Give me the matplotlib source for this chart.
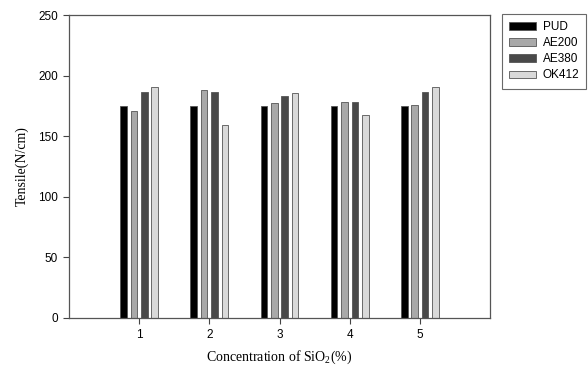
import matplotlib
matplotlib.use("Agg")
import matplotlib.pyplot as plt
import numpy as np

# Data
concentrations = [1, 2, 3, 4, 5]
series_names = ["PUD", "AE200", "AE380", "OK412"]
pud = [175, 175, 175, 175, 175]
ae200 = [170.5, 188, 177.5, 178, 175.5]
ae380 = [186.5, 186.5, 183, 178.5, 186.5]
ok412 = [190.5, 159.5, 186, 167.5, 191]

colors = ["#000000", "#a9a9a9", "#494949", "#d9d9d9"]

plt.rcParams["mathtext.fontset"] = "custom"
plt.rcParams["mathtext.rm"] = "Liberation Serif"
plt.rcParams["mathtext.it"] = "Liberation Serif:italic"

fig = plt.figure(figsize=(5.88, 3.72), dpi=100)
ax = fig.add_axes([69 / 588, 54 / 372, 421 / 588, 303 / 372])

x = np.array(concentrations, dtype=float)
step = 0.148
width = 0.095
for i, (name, vals) in enumerate(zip(series_names, [pud, ae200, ae380, ok412])):
    ax.bar(x + (i - 1.5) * step, vals, width=width, color=colors[i],
           edgecolor="#555555", linewidth=0.6, label=name)

ax.set_xlim(0, 6)
ax.set_ylim(0, 250)
ax.set_xticks(concentrations)
ax.set_yticks([0, 50, 100, 150, 200, 250])

for lab in ax.get_xticklabels() + ax.get_yticklabels():
    lab.set_fontfamily("Liberation Sans")
    lab.set_fontsize(8.5)
ax.tick_params(direction="out", length=4, width=0.8, color="#444444", pad=4)

for sp in ax.spines.values():
    sp.set_color("#555555")
    sp.set_linewidth(0.9)

ax.set_xlabel("Concentration of SiO$_\\mathrm{2}$(%)", family="Liberation Serif",
              fontsize=10, va="center")
ax.set_ylabel("Tensile(N/cm)", family="Liberation Serif", fontsize=10, va="center")
ax.xaxis.set_label_coords(0.5, (318 - 357) / 303)
ax.yaxis.set_label_coords((22 - 69) / 421, 0.5)

leg = ax.legend(loc="upper left", bbox_to_anchor=(502 / 588, 1 - 14 / 372),
                bbox_transform=fig.transFigure, borderaxespad=0, frameon=True,
                fancybox=False, prop={"family": "Liberation Sans", "size": 8.5},
                handlelength=2.3, handleheight=0.6, labelspacing=0.35,
                handletextpad=0.55, borderpad=0.6)
leg.get_frame().set_edgecolor("#444444")
leg.get_frame().set_linewidth(0.8)

fig.savefig("out.png", dpi=100)
